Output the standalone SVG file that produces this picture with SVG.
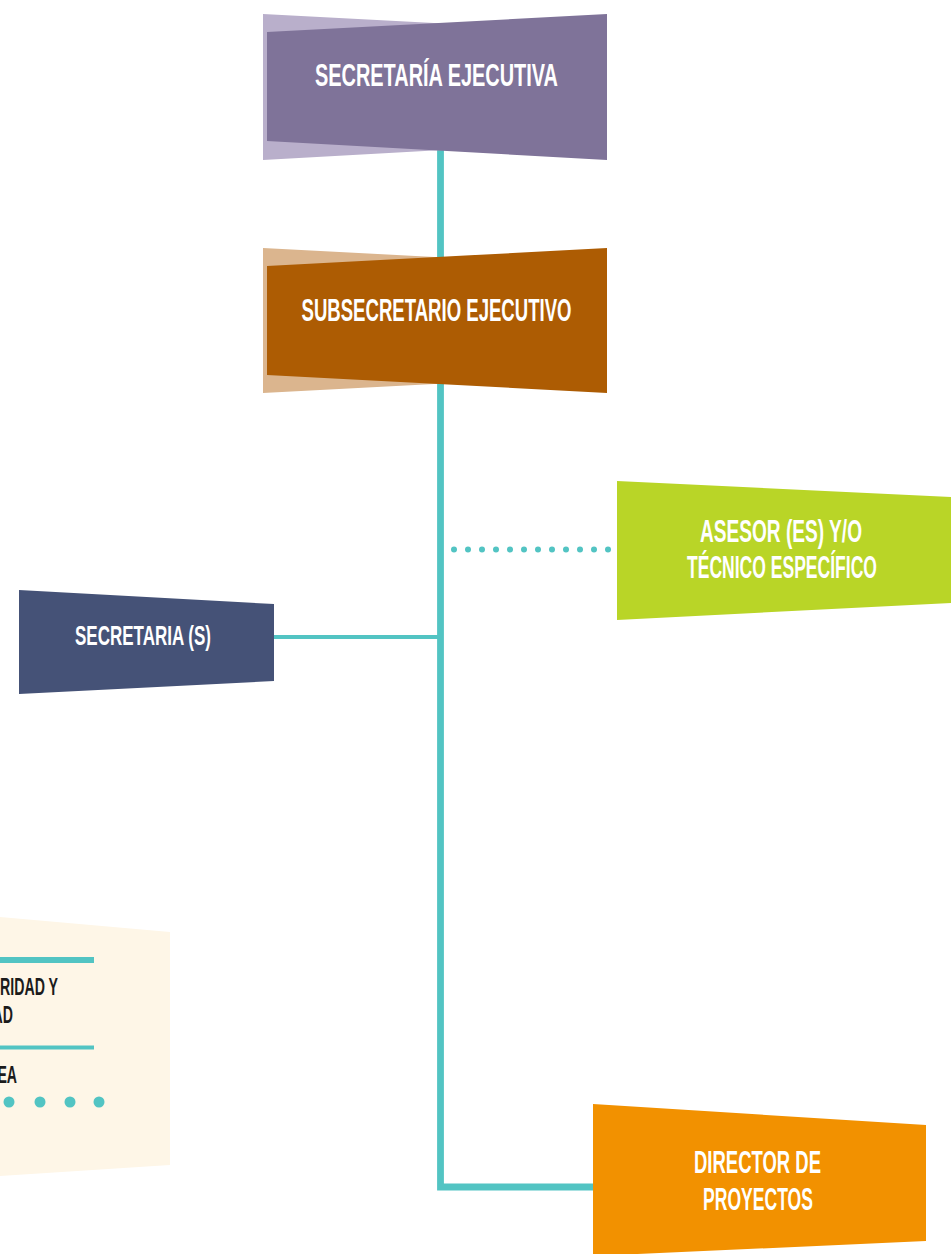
<svg xmlns="http://www.w3.org/2000/svg" width="951" height="1254" viewBox="0 0 951 1254">
  <style>
    .lbl { font-family: "Liberation Sans", Arial, sans-serif; font-weight: bold; fill: #ffffff; font-size: 31.5px; }
    .sm { font-size: 28px; }
    .leg { font-family: "Liberation Sans", Arial, sans-serif; fill: #1b1b1b; font-size: 23.5px; font-weight: bold; }
    .wire { fill: none; stroke: #52c4c3; }
    .dot { fill: #52c4c3; }
  </style>
  <rect width="951" height="1254" fill="#ffffff"/>

  <!-- legend card (partly off the left edge) -->
  <g id="legend">
    <polygon points="0,917 170,932 170,1165 0,1176" fill="#fef6e7"/>
    <line x1="0" y1="960" x2="94" y2="960" stroke="#52c4c3" stroke-width="6"/>
    <text class="leg" x="58" y="995" text-anchor="end" textLength="58" lengthAdjust="spacingAndGlyphs">RIDAD Y</text>
    <text class="leg" x="-7.4" y="1023" textLength="20.4" lengthAdjust="spacingAndGlyphs">AD</text>
    <line x1="0" y1="1047.5" x2="94" y2="1047.5" stroke="#52c4c3" stroke-width="4"/>
    <text class="leg" x="-2.6" y="1083" textLength="19.6" lengthAdjust="spacingAndGlyphs">EA</text>
    <circle class="dot" cx="9" cy="1102" r="5.5"/>
    <circle class="dot" cx="40" cy="1102" r="5.5"/>
    <circle class="dot" cx="70" cy="1102" r="5.5"/>
    <circle class="dot" cx="99" cy="1102" r="5.5"/>
  </g>

  <!-- connectors -->
  <g id="connectors">
    <path class="wire" d="M440.5,150 V1187 H596" stroke-width="6.8"/>
    <line class="wire" x1="273" y1="637" x2="440" y2="637" stroke-width="4"/>
    <!-- dotted advisory link -->
    <g>
      <circle class="dot" cx="454" cy="549.5" r="3"/>
      <circle class="dot" cx="468" cy="549.5" r="3"/>
      <circle class="dot" cx="482" cy="549.5" r="3"/>
      <circle class="dot" cx="496" cy="549.5" r="3"/>
      <circle class="dot" cx="510" cy="549.5" r="3"/>
      <circle class="dot" cx="524" cy="549.5" r="3"/>
      <circle class="dot" cx="538" cy="549.5" r="3"/>
      <circle class="dot" cx="552" cy="549.5" r="3"/>
      <circle class="dot" cx="566" cy="549.5" r="3"/>
      <circle class="dot" cx="580" cy="549.5" r="3"/>
      <circle class="dot" cx="594" cy="549.5" r="3"/>
      <circle class="dot" cx="608" cy="549.5" r="3"/>
    </g>
  </g>

  <g id="secretaria-ejecutiva">
    <polygon points="263,14 607,32 607,141 263,160" fill="#b9afcb"/>
    <polygon points="267,32 607,14 607,160 267,141" fill="#7f7399"/>
    <text class="lbl" x="315" y="85.5" textLength="243" lengthAdjust="spacingAndGlyphs">SECRETARÍA  EJECUTIVA</text>
  </g>

  <g id="subsecretario-ejecutivo">
    <polygon points="263,248 607,266 607,375 263,393" fill="#dbb58e"/>
    <polygon points="267,266 607,248 607,393 267,375" fill="#ad5c03"/>
    <text class="lbl" x="301.5" y="321" textLength="270" lengthAdjust="spacingAndGlyphs">SUBSECRETARIO EJECUTIVO</text>
  </g>

  <g id="asesor">
    <polygon points="617,481 951,497 951,603 617,620" fill="#b9d527"/>
    <text class="lbl" x="700" y="542" textLength="162" lengthAdjust="spacingAndGlyphs">ASESOR (ES) Y/O</text>
    <text class="lbl" x="687" y="578" textLength="190" lengthAdjust="spacingAndGlyphs">TÉCNICO ESPECÍFICO</text>
  </g>

  <g id="secretaria">
    <polygon points="19,590 274,604 274,681 19,694" fill="#455277"/>
    <text class="lbl sm" x="75" y="644.5" textLength="136" lengthAdjust="spacingAndGlyphs">SECRETARIA (S)</text>
  </g>

  <g id="director-proyectos">
    <polygon points="593,1104 926,1125 926,1241 593,1256" fill="#f29100"/>
    <text class="lbl" x="694" y="1173" textLength="127" lengthAdjust="spacingAndGlyphs">DIRECTOR DE</text>
    <text class="lbl" x="703" y="1210" textLength="110" lengthAdjust="spacingAndGlyphs">PROYECTOS</text>
  </g>
</svg>
